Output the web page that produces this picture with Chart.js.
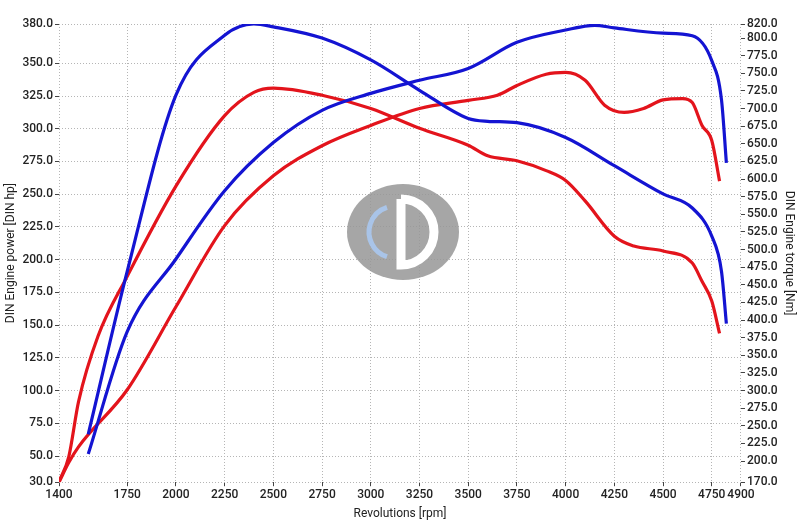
<!DOCTYPE html>
<html lang="en">
<head>
<meta charset="UTF-8" />
<script src="https://cdn.jsdelivr.net/npm/chart.js"></script>
<style>
  body { margin: 0; background: #fff; }
</style>
</head>
<body>
<canvas id="dyno" width="800" height="525"></canvas>
<script>
  // rpm / value pairs
  const bluePowerRpm = [1550, 1750, 2000, 2250, 2500, 2750, 3000, 3250, 3500, 3750, 4000, 4150, 4250, 4500, 4650, 4750, 4800, 4825];
  const bluePowerHp  = [51.5, 145, 200.5, 252.6, 289.4, 314, 327, 337, 346, 366, 375.4, 379, 377, 373, 371, 352, 322, 274];

  const blueTorqueRpm = [1550, 1750, 2000, 2250, 2400, 2500, 2750, 3000, 3250, 3500, 3600, 3750, 4000, 4250, 4500, 4650, 4750, 4800, 4825];
  const blueTorqueNm  = [238, 469, 719, 804, 820, 816, 800, 769, 726, 686, 682, 680, 659, 619, 579, 559, 519, 469, 395];

  const redPowerRpm = [1400, 1450, 1500, 1750, 2000, 2250, 2500, 2750, 3000, 3250, 3500, 3650, 3750, 3900, 4000, 4100, 4200, 4300, 4400, 4500, 4600, 4650, 4700, 4750, 4790];
  const redPowerHp  = [30, 45, 57, 100.6, 164, 226, 264, 287, 302.5, 315.5, 321.7, 325.6, 333, 341.6, 343, 337, 318, 312.5, 315.5, 322, 323, 320, 302.5, 291, 260];

  const redTorqueRpm = [1400, 1450, 1500, 1600, 1750, 2000, 2250, 2400, 2500, 2750, 3000, 3250, 3500, 3600, 3750, 3900, 4000, 4100, 4250, 4350, 4500, 4650, 4700, 4750, 4790];
  const redTorqueNm  = [171, 206, 284, 377, 462, 590, 690, 723, 729, 719, 700, 672, 648, 633, 626, 612, 598, 569, 519, 505, 498, 481, 455, 427, 381];

  const rpmTicks = [1400, 1750, 2000, 2250, 2500, 2750, 3000, 3250, 3500, 3750, 4000, 4250, 4500, 4750, 4900];
  const hpTicks = [30, 50, 75, 100, 125, 150, 175, 200, 225, 250, 275, 300, 325, 350, 380];
  const nmTicks = [170, 200, 225, 250, 275, 300, 325, 350, 375, 400, 425, 450, 475, 500, 525, 550, 575, 600, 625, 650, 675, 700, 725, 750, 775, 800, 820];

  const RED = "#e3141c";
  const BLUE = "#1414d2";

  const pts = (xs, ys) => xs.map((x, i) => ({ x: x, y: ys[i] }));

  const watermark = {
    id: "watermark",
    beforeDatasetsDraw(chart) {
      const ctx = chart.ctx;
      const cx = 403, cy = 232;
      ctx.save();
      ctx.fillStyle = "rgba(150,150,150,0.85)";
      ctx.beginPath();
      ctx.ellipse(cx, cy, 56, 48, 0, 0, Math.PI * 2);
      ctx.fill();
      ctx.strokeStyle = "#fff";
      ctx.lineWidth = 9;
      ctx.beginPath();
      ctx.moveTo(cx - 2, cy - 33);
      ctx.lineTo(cx - 2, cy + 33);
      ctx.arc(cx - 2, cy, 33, Math.PI / 2, -Math.PI / 2, true);
      ctx.stroke();
      ctx.strokeStyle = "rgba(170,200,240,0.9)";
      ctx.lineWidth = 5;
      ctx.beginPath();
      ctx.arc(cx - 8, cy, 26, Math.PI * 0.6, Math.PI * 1.4);
      ctx.stroke();
      ctx.restore();
    }
  };

  const lineDs = (data, color, axis) => ({
    data: data, borderColor: color, borderWidth: 3.2, pointRadius: 0,
    tension: 0.4, cubicInterpolationMode: "monotone", yAxisID: axis, fill: false
  });

  const tickFont = { family: "Roboto", size: 12, weight: "500" };
  const gridStyle = { color: "#b5b5b5", lineWidth: 1, borderDash: [1, 2], tickColor: "#444", tickLength: 4 };

  new Chart(document.getElementById("dyno"), {
    type: "line",
    data: {
      datasets: [
        lineDs(pts(bluePowerRpm, bluePowerHp), BLUE, "hp"),
        lineDs(pts(blueTorqueRpm, blueTorqueNm), BLUE, "nm"),
        lineDs(pts(redPowerRpm, redPowerHp), RED, "hp"),
        lineDs(pts(redTorqueRpm, redTorqueNm), RED, "nm")
      ]
    },
    options: {
      responsive: false,
      animation: false,
      layout: { padding: { top: 24, left: 2, right: 2, bottom: 2 } },
      plugins: { legend: { display: false }, tooltip: { enabled: false } },
      scales: {
        x: {
          type: "linear", min: 1400, max: 4900,
          afterBuildTicks: (ax) => { ax.ticks = rpmTicks.map(v => ({ value: v })); },
          ticks: { color: "#222", font: tickFont, maxRotation: 0, autoSkip: false, padding: 2, callback: v => String(v) },
          grid: gridStyle,
          border: { display: false, dash: [1, 2] },
          title: { display: true, text: "Revolutions [rpm]", color: "#222", font: { family: "Roboto", size: 12 }, padding: 2 }
        },
        hp: {
          position: "left", min: 30, max: 380,
          afterBuildTicks: (ax) => { ax.ticks = hpTicks.map(v => ({ value: v })); },
          ticks: { color: "#222", font: tickFont, autoSkip: false, padding: 2, callback: v => v.toFixed(1) },
          grid: gridStyle,
          border: { display: false, dash: [1, 2] },
          title: { display: true, text: "DIN Engine power [DIN hp]", color: "#222", font: { family: "Roboto", size: 12 }, padding: 2 }
        },
        nm: {
          position: "right", min: 170, max: 820,
          afterBuildTicks: (ax) => { ax.ticks = nmTicks.map(v => ({ value: v })); },
          ticks: { color: "#222", font: tickFont, autoSkip: false, padding: 2, callback: v => v.toFixed(1) },
          grid: { drawOnChartArea: false, tickColor: "#444", tickLength: 4 },
          border: { display: false },
          title: { display: true, text: "DIN Engine torque [Nm]", color: "#222", font: { family: "Roboto", size: 12 }, padding: 2 }
        }
      }
    },
    plugins: [watermark]
  });
</script>
</body>
</html>
